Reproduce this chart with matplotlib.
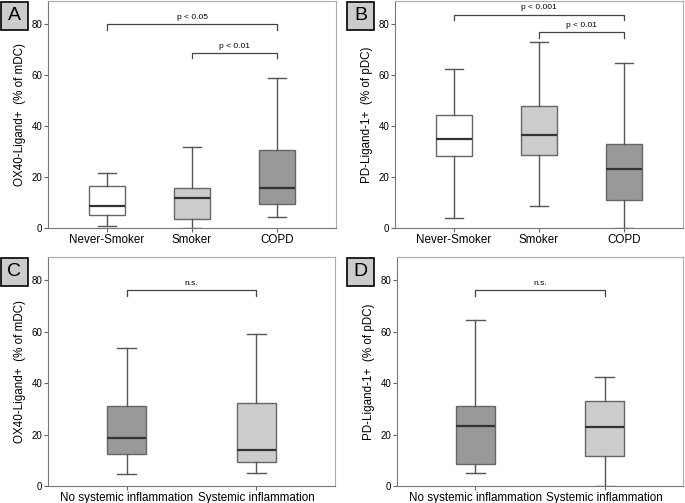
import matplotlib.pyplot as plt
from matplotlib.patches import Rectangle

plt.rcParams['font.family'] = ['Liberation Sans', 'DejaVu Sans']

# panel A / B: smoking groups
groups_ab = ['Never-Smoker', 'Smoker', 'COPD']
ox40_lo = [0.8, 0.0, 4.3]
ox40_q1 = [5.1, 3.4, 9.6]
ox40_med = [8.7, 11.6, 15.8]
ox40_q3 = [16.6, 15.5, 30.6]
ox40_hi = [21.7, 31.7, 58.8]

pdl_lo = [3.8, 8.7, 0.0]
pdl_q1 = [28.3, 28.6, 11.1]
pdl_med = [34.8, 36.4, 23.1]
pdl_q3 = [44.2, 47.9, 33.0]
pdl_hi = [62.2, 73.0, 64.7]

# panel C / D: systemic inflammation
groups_cd = ['No systemic inflammation', 'Systemic inflammation']
ox40i_lo = [4.6, 5.1]
ox40i_q1 = [12.6, 9.5]
ox40i_med = [18.6, 13.8]
ox40i_q3 = [31.2, 32.1]
ox40i_hi = [53.6, 58.9]

pdli_lo = [5.2, 0.0]
pdli_q1 = [8.6, 11.7]
pdli_med = [23.4, 23.0]
pdli_q3 = [31.1, 33.2]
pdli_hi = [64.6, 42.4]

fill_ab = ['white', '#cccccc', '#999999']
fill_cd = ['#999999', '#cccccc']


def stats(lo, q1, med, q3, hi):
    return [dict(whislo=a, q1=b, med=c, q3=d, whishi=e, fliers=[])
            for a, b, c, d, e in zip(lo, q1, med, q3, hi)]


def panel(ax, st, labels, fills, width, ylabel, brackets):
    pos = list(range(1, len(st) + 1))
    b = ax.bxp(st, positions=pos, widths=width, patch_artist=True, showfliers=False,
               boxprops=dict(edgecolor='#666666', linewidth=1.0),
               medianprops=dict(color='#333333', linewidth=1.6),
               whiskerprops=dict(color='#555555', linewidth=1.0),
               capprops=dict(color='#555555', linewidth=1.0),
               capwidths=width * 0.5)
    for p, c in zip(b['boxes'], fills):
        p.set_facecolor(c)
    m = 0.69 if len(pos) == 3 else 0.605
    ax.set_xlim(pos[0] - m, pos[-1] + m)
    ax.set_ylim(0, 89)
    ax.set_yticks([0, 20, 40, 60, 80])
    ax.set_xticks(pos)
    ax.set_xticklabels(labels, fontsize=8.4)
    ax.tick_params(axis='y', labelsize=7, length=3, color='#666666', pad=1)
    ax.tick_params(axis='x', length=3, color='#666666', pad=1.5)
    for s in ax.spines.values():
        s.set_color('#aaaaaa')
    ax.spines['left'].set_color('#777777')
    ax.spines['bottom'].set_color('#777777')
    ax.set_ylabel(ylabel, fontsize=8.4, labelpad=4)
    for x1, x2, y, txt in brackets:
        ax.plot([x1, x1, x2, x2], [y - 2.2, y, y, y - 2.2], color='#444444', lw=0.9)
        ax.text((x1 + x2) / 2, y + 1.2, txt, ha='center', va='bottom', fontsize=6)


def letter(fig, x, y, s):
    # x, y: top-left corner in pixels
    W, H = 685, 503
    fig.patches.append(Rectangle((x / W, 1 - (y + 28) / H), 27 / W, 28 / H,
                                 transform=fig.transFigure, facecolor='#cccccc',
                                 edgecolor='black', lw=1.2))
    fig.text((x + 13.5) / W, 1 - (y + 14) / H, s, fontsize=14, ha='center', va='center')


fig = plt.figure(figsize=(6.85, 5.03), dpi=100)
axA = fig.add_axes([0.0701, 0.5467, 0.4204, 0.4513])
axB = fig.add_axes([0.5766, 0.5467, 0.4204, 0.4513])
axC = fig.add_axes([0.0701, 0.0338, 0.4190, 0.4552])
axD = fig.add_axes([0.5796, 0.0338, 0.4175, 0.4552])

panel(axA, stats(ox40_lo, ox40_q1, ox40_med, ox40_q3, ox40_hi), groups_ab, fill_ab, 0.42,
      'OX40-Ligand+  (% of mDC)', [(1, 3, 80, 'p < 0.05'), (2, 3, 68.7, 'p < 0.01')])
panel(axB, stats(pdl_lo, pdl_q1, pdl_med, pdl_q3, pdl_hi), groups_ab, fill_ab, 0.42,
      'PD-Ligand-1+  (% of pDC)', [(1, 3, 83.7, 'p < 0.001'), (2, 3, 76.8, 'p < 0.01')])
panel(axC, stats(ox40i_lo, ox40i_q1, ox40i_med, ox40i_q3, ox40i_hi), groups_cd, fill_cd, 0.30,
      'OX40-Ligand+  (% of mDC)', [(1, 2, 76.1, 'n.s.')])
panel(axD, stats(pdli_lo, pdli_q1, pdli_med, pdli_q3, pdli_hi), groups_cd, fill_cd, 0.30,
      'PD-Ligand-1+  (% of pDC)', [(1, 2, 76.1, 'n.s.')])

letter(fig, 0.5, 2, 'A')
letter(fig, 347, 2, 'B')
letter(fig, 0.5, 258, 'C')
letter(fig, 347, 258, 'D')

fig.savefig('out.png', dpi=100)
